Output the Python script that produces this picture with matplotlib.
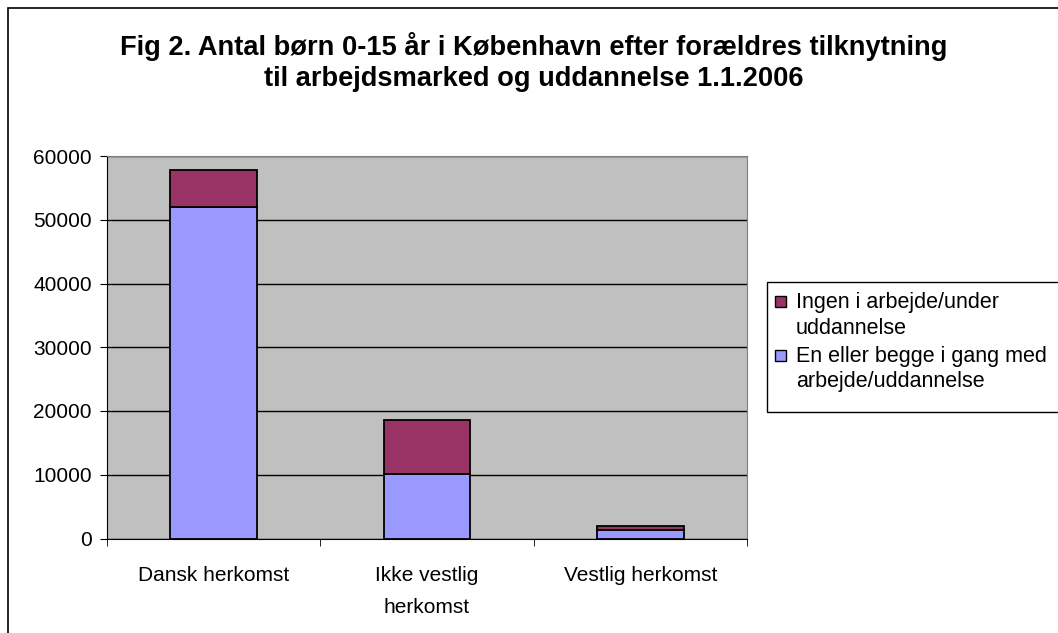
import matplotlib
matplotlib.use("Agg")
import matplotlib.pyplot as plt
import matplotlib.patches as patches
import numpy as np

plt.rcParams["font.family"] = ["Liberation Sans", "DejaVu Sans"]

# Data
categories = ["Dansk herkomst", "Ikke vestlig\nherkomst", "Vestlig herkomst"]
working = [52000, 10150, 1300]      # En eller begge i gang med arbejde/uddannelse
not_working = [5850, 8450, 600]     # Ingen i arbejde/under uddannelse
yticks = [0, 10000, 20000, 30000, 40000, 50000, 60000]
label_working = "En eller begge i gang med\narbejde/uddannelse"
label_not_working = "Ingen i arbejde/under\nuddannelse"

W, H = 1058, 633
fig = plt.figure(figsize=(W / 100, H / 100), dpi=100)
fig.patch.set_facecolor("white")


def px(x, y):
    """pixel position (from top-left) -> figure fraction"""
    return x / W, 1 - y / H


# outer chart border (cut off at right and bottom, like the reference)
fig.patches.append(patches.Rectangle((8 / W, -0.1), 1.2, 1 - 8 / H + 0.1,
                                     transform=fig.transFigure, fill=False,
                                     edgecolor="black", lw=1.2))

ax = fig.add_axes([107 / W, (H - 538.5) / H, 640 / W, 382.5 / H])
ax.set_facecolor("#C0C0C0")

x = np.arange(len(categories))
b1 = ax.bar(x, working, width=0.405, color="#9999FF", edgecolor="black", lw=1.3,
            label=label_working, zorder=3)
b2 = ax.bar(x, not_working, bottom=working, width=0.405, color="#993366",
            edgecolor="black", lw=1.3, label=label_not_working, zorder=3)

ax.set_xlim(-0.5, 2.5)
ax.set_ylim(0, 60000)
ax.set_yticks(yticks)
ax.set_yticklabels([str(t) for t in yticks], fontsize=15)
ax.yaxis.grid(True, color="black", lw=1)
ax.set_axisbelow(True)

ax.set_xticks(x)
ax.set_xticklabels(categories, fontsize=15, linespacing=1.85)
ax.set_xticks([-0.5, 0.5, 1.5, 2.5], minor=True)
ax.tick_params(axis="x", which="major", length=0, pad=20)
ax.tick_params(axis="x", which="minor", length=5, direction="out")
ax.tick_params(axis="y", length=5, direction="out", pad=6)

for s in ["top", "right"]:
    ax.spines[s].set_color("#808080")
ax.spines["left"].set_color("black")
ax.spines["bottom"].set_color("black")

fig.text(533.5 / W, 1 - 62 / H, "Fig 2. Antal børn 0-15 år i København efter forældres tilknytning\n"
         "til arbejdsmarked og uddannelse 1.1.2006",
         ha="center", va="center", fontsize=19.6, fontweight="bold", linespacing=1.27)

# legend, drawn by hand so the markers sit at the first text line (Excel style)
fig.patches.append(patches.Rectangle(px(767, 412), 320 / W, 130 / H,
                                     transform=fig.transFigure, fill=False,
                                     edgecolor="black", lw=1))
entries = [(b2.patches[0].get_facecolor(), label_not_working, 308),
           (b1.patches[0].get_facecolor(), label_working, 362)]
for color, label, base in entries:
    fig.patches.append(patches.Rectangle(px(775, base - 1), 11 / W, 11 / H,
                                         transform=fig.transFigure, facecolor=color,
                                         edgecolor="black", lw=1))
    for i, line in enumerate(label.split("\n")):
        fig.text(*px(796, base + 25.5 * i), line, fontsize=15.5,
                 ha="left", va="baseline")

fig.savefig("out.png", dpi=100)
